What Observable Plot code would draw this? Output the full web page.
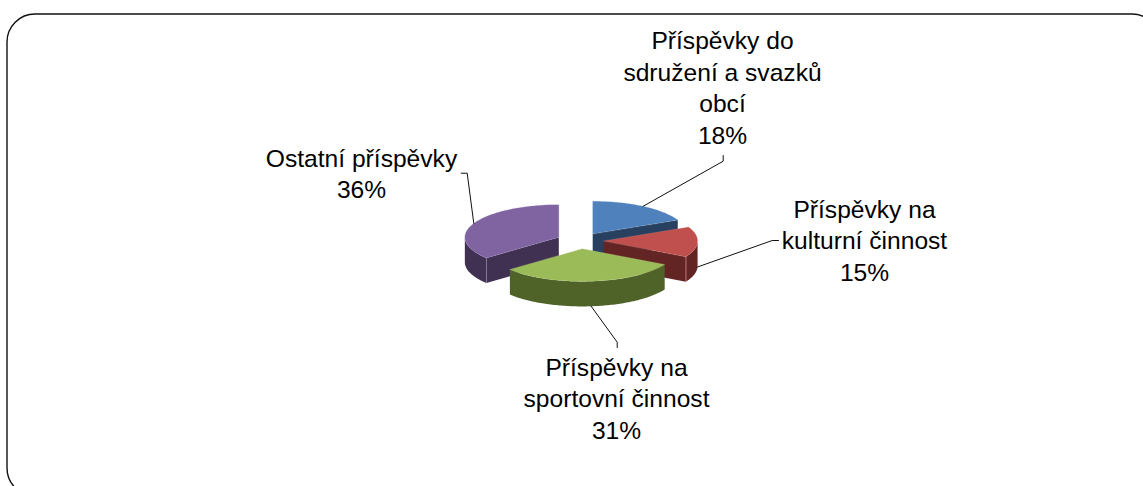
<!DOCTYPE html>
<html>
<head>
<meta charset="utf-8">
<script src="https://cdn.jsdelivr.net/npm/d3@7"></script>
<script src="https://cdn.jsdelivr.net/npm/@observablehq/plot@0.6"></script>
<style>
html,body{margin:0;padding:0;background:#fff}
svg{display:block}
</style>
</head>
<body>
<div id="chart"></div>
<script>
// Data
const categories = ["Příspěvky do\nsdružení a svazků\nobcí","Příspěvky na\nkulturní činnost","Příspěvky na\nsportovní činnost","Ostatní příspěvky"];
const values = [18,15,31,36];
// Styles
const topColors  = ["#4f81bd","#c0504d","#9bbb59","#8064a2"];
const sideColors = ["#27405f","#632523","#4f6228","#403152"];
const edgeColors = ["#8fb0d8","#dc9492","#c5d99a","#ad98c6"];
// Layout of the projected pie
const W = 1143, H = 486;
const cx = 579.6, cy = 240.2, rx = 94, ry = 32.6, depth = 25, explode = 0.25;
const labelCenters = [722,864,616,361];
const labelBaselines = [143,280,438,197.7];
const elbows = [[[722.7,160.7],[722.7,155]],[[771.7,240],[778,240]],[[616.7,341.7],[616.7,347]],[[466.7,172.7],[460.7,172.7]]];
const fontSize = 24.6, lineStep = 31.5;
const paintOrder = [0,1,3,2];

const tau = 2*Math.PI;
const total = d3.sum(values);
let acc = 0;
const slices = values.map((v,i)=>{
  const a0 = acc/total*tau; acc += v; const a1 = acc/total*tau; const mid=(a0+a1)/2;
  const ax = cx + explode*rx*Math.sin(mid), ay = cy - explode*ry*Math.cos(mid);
  return {i,a0,a1,mid,ax,ay};
});
const pt = (s,a,dz=0)=>({x:s.ax+rx*Math.sin(a), y:s.ay-ry*Math.cos(a)+dz});
const arc = (s,a0,a1,dz=0)=>{const n=Math.max(2,Math.ceil((a1-a0)/0.02));return d3.range(n+1).map(k=>pt(s,a0+(a1-a0)*k/n,dz));};

const marks = [];
// frame
marks.push(Plot.rect([{x1:7,x2:1160,y1:14,y2:496}],{x1:"x1",x2:"x2",y1:"y1",y2:"y2",fill:"none",stroke:"#111",strokeWidth:1.4,r:28}));

// faces
for (const idx of paintOrder){
  const s = slices[idx];
  const apex = {x:s.ax,y:s.ay}, apexB={x:s.ax,y:s.ay+depth};
  // end edge (clockwise side) visible in the right half
  if (Math.sin(s.a1)>0){
    const e0=pt(s,s.a1), e1=pt(s,s.a1,depth);
    marks.push(Plot.line([apex,e0,e1,apexB],{x:"x",y:"y",fill:sideColors[idx],stroke:"none",curve:"linear-closed"}));
  }
  // start edge visible in the left half
  if (Math.sin(s.a0)<0){
    const e0=pt(s,s.a0), e1=pt(s,s.a0,depth);
    marks.push(Plot.line([apex,e0,e1,apexB],{x:"x",y:"y",fill:sideColors[idx],stroke:"none",curve:"linear-closed"}));
  }
  // outer wall, front half only
  const w0=Math.max(s.a0,Math.PI/2), w1=Math.min(s.a1,3*Math.PI/2);
  if (w1>w0){
    const poly=[...arc(s,w0,w1),...arc(s,w0,w1,depth).reverse()];
    marks.push(Plot.line(poly,{x:"x",y:"y",fill:sideColors[idx],stroke:"none",curve:"linear-closed"}));
    // corner highlight
    if (s.a1<3*Math.PI/2 && Math.sin(s.a1)>0 && s.a0<Math.PI/2)
      marks.push(Plot.line([pt(s,s.a1),pt(s,s.a1,depth)],{x:"x",y:"y",stroke:edgeColors[idx],strokeWidth:1,strokeOpacity:0.7}));
    if (s.a0>Math.PI && Math.sin(s.a0)<0)
      marks.push(Plot.line([pt(s,s.a0),pt(s,s.a0,depth)],{x:"x",y:"y",stroke:edgeColors[idx],strokeWidth:1,strokeOpacity:0.4}));
  }
  // top
  marks.push(Plot.line([apex,...arc(s,s.a0,s.a1)],{x:"x",y:"y",fill:topColors[idx],stroke:edgeColors[idx],strokeWidth:0.6,strokeOpacity:0.35,curve:"linear-closed"}));
}

// leaders
slices.forEach((s,i)=>{
  const front = Math.cos(s.mid)<0.1;
  const start = pt(s,s.mid,front?depth:0);
  const path=[start,...elbows[i].map(([x,y])=>({x,y}))];
  marks.push(Plot.line(path,{x:"x",y:"y",stroke:"#111",strokeWidth:1}));
});

// labels
const labels = categories.map((c,i)=>({text:c+"\n"+values[i]+"%",x:labelCenters[i],y:labelBaselines[i]}));
marks.push(Plot.text(labels,{x:"x",y:"y",text:"text",textAnchor:"middle",lineAnchor:"bottom",lineHeight:lineStep/fontSize,fontSize,fontFamily:"'Liberation Sans',Arial,sans-serif",fill:"#000",stroke:"none"}));

const chart = Plot.plot({
  width:W,height:H,margin:0,
  style:{background:"#fff",overflow:"hidden"},
  x:{domain:[0,W],range:[0,W],axis:null},
  y:{domain:[0,H],range:[0,H],axis:null},
  marks
});
document.getElementById("chart").append(chart);
</script>
</body>
</html>
